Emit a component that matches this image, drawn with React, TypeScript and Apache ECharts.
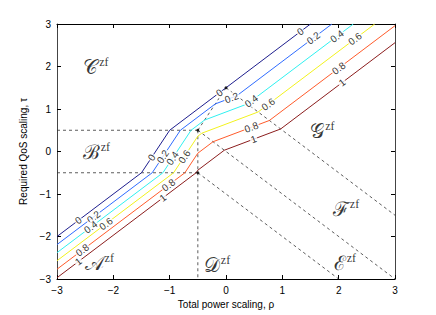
import React, { useEffect, useRef } from 'react';
import * as echarts from 'echarts';

const W = 436;
const H = 315;
const GRID = { left: 57, right: 41, top: 24, bottom: 36 };

// contour levels and colours (jet colormap)
const levelNames = ['0', '0.2', '0.4', '0.6', '0.8', '1'];
const levelColors = ['#1e1e8e', '#2f6cff', '#30f0f0', '#f2f21e', '#ff5b2b', '#8b1d1d'];

// contour vertices [rho, tau]
const contour00 = [[-3, -2], [-1.5, -0.5], [-1, 0.5], [1.5, 3]];
const contour02 = [[-3, -2.19], [-1.31, -0.5], [-0.81, 0.5], [-0.19, 1.12], [0.19, 1.31], [1.88, 3]];
const contour04 = [[-3, -2.38], [-1.12, -0.5], [-0.62, 0.5], [-0.38, 0.74], [0.38, 1.12], [2.26, 3]];
const contour06 = [[-3, -2.57], [-0.93, -0.5], [-0.5, 0.36], [-0.43, 0.43], [0.57, 0.93], [2.64, 3]];
const contour08 = [[-3, -2.77], [-0.73, -0.5], [-0.5, -0.04], [-0.23, 0.23], [0.77, 0.73], [3, 2.96]];
const contour10 = [[-3, -2.97], [-0.53, -0.5], [-0.5, -0.44], [-0.03, 0.03], [0.97, 0.53], [3, 2.56]];
const contours = [contour00, contour02, contour04, contour06, contour08, contour10];

// rho positions of the inline contour labels
const labelRho00 = [-2.62, -1.32, -0.12, 1.32];
const labelRho02 = [-2.35, -1.12, 0.1, 1.55];
const labelRho04 = [-2.4, -0.95, 0.45, 1.97];
const labelRho06 = [-2.13, -0.74, 0.75, 2.29];
const labelRho08 = [-2.55, -1.02, 0.45, 2.0];
const labelRho10 = [-2.62, -1.12, 0.49, 2.06];
const labelRhos = [labelRho00, labelRho02, labelRho04, labelRho06, labelRho08, labelRho10];

// region boundaries (dashed)
const boundaries = [
  [[-3, 0.5], [-0.5, 0.5]],
  [[-3, -0.5], [-0.5, -0.5]],
  [[-0.5, 0.5], [-0.5, -3]],
  [[-0.5, 0.5], [0, 1.5]],
  [[0, 1.5], [3, -1.5]],
  [[-0.5, 0.5], [3, -3]],
  [[-0.5, -0.5], [2, -3]],
];
const corners = [[-0.5, 0.5], [-0.5, -0.5], [0, 1.5]];

// region names
const regionLetters = ['𝒜', 'ℬ', '𝒞', '𝒟', 'ℰ', 'ℱ', '𝒢'];
const regionPos = [[-2.25, -2.62], [-2.3, 0.0], [-2.31, 1.99], [-0.16, -2.67], [2.11, -2.62], [2.13, -1.35], [1.71, 0.48]];

function onPolyline(pts: number[][], rho: number) {
  for (let i = 0; i < pts.length - 1; i++) {
    const [x0, y0] = pts[i];
    const [x1, y1] = pts[i + 1];
    if (rho >= x0 && rho <= x1) {
      const s = (y1 - y0) / (x1 - x0);
      return { tau: y0 + s * (rho - x0), slope: s };
    }
  }
  return { tau: pts[0][1], slope: 1 };
}

export default function App() {
  const ref = useRef<HTMLDivElement>(null);
  useEffect(() => {
    if (!ref.current) return;
    const chart = echarts.init(ref.current, undefined, { renderer: 'svg' });
    const sx = (W - GRID.left - GRID.right) / 6;
    const sy = (H - GRID.top - GRID.bottom) / 6;
    const minus = (v: number) => String(v).replace('-', '\u2212');
    const font = 'Liberation Sans';

    const series: any[] = [];
    boundaries.forEach((b) => {
      series.push({
        type: 'line', data: b, symbol: 'none', silent: true, z: 2,
        lineStyle: { color: '#333', width: 0.8, type: [3, 3] },
      });
    });
    contours.forEach((c, i) => {
      series.push({
        type: 'line', data: c, symbol: 'none', silent: true, z: 3,
        lineStyle: { color: levelColors[i], width: 1 },
      });
    });
    series.push({
      type: 'scatter', data: corners, symbolSize: 3, z: 4, silent: true,
      itemStyle: { color: '#000' },
    });
    const labelData: any[] = [];
    labelRhos.forEach((arr, i) => {
      arr.forEach((r) => {
        const p = onPolyline(contours[i], r);
        const ang = (Math.atan2(p.slope * sy, sx) * 180) / Math.PI;
        labelData.push({
          value: [r, p.tau],
          label: { rotate: ang, formatter: levelNames[i] },
        });
      });
    });
    series.push({
      type: 'scatter', data: labelData, symbolSize: 0, z: 6, silent: true,
      label: {
        show: true, position: 'inside', color: '#000', fontFamily: font, fontSize: 10,
        backgroundColor: '#fff', padding: [0, 1], lineHeight: 10,
      },
    });
    series.push({
      type: 'scatter', symbolSize: 0, z: 7, silent: true,
      data: regionLetters.map((l, i) => ({
        value: regionPos[i],
        label: { formatter: `{m|${l}}{s|zf}` },
      })),
      label: {
        show: true, position: 'inside',
        rich: {
          m: { fontFamily: 'DejaVu Serif', fontStyle: 'normal', fontSize: 20, color: '#000', lineHeight: 22 },
          s: { fontFamily: 'Liberation Serif', fontSize: 12, color: '#000', verticalAlign: 'top', lineHeight: 22, padding: [0, 0, 9, 1] },
        },
      },
    });

    const axisCommon = {
      type: 'value', min: -3, max: 3, interval: 1,
      splitLine: { show: false },
      axisTick: { inside: true, length: 4, lineStyle: { color: '#000' } },
    };
    chart.setOption({
      animation: false,
      grid: { ...GRID, containLabel: false },
      xAxis: [
        {
          ...axisCommon, position: 'bottom',
          axisLine: { onZero: false, lineStyle: { color: '#000', width: 1 } },
          axisLabel: { formatter: minus, color: '#000', fontFamily: font, fontSize: 10, margin: 6 },
          name: 'Total power scaling, \u03c1', nameLocation: 'middle', nameGap: 18,
          nameTextStyle: { color: '#000', fontFamily: font, fontSize: 10 },
        },
        {
          ...axisCommon, position: 'top',
          axisLine: { onZero: false, lineStyle: { color: '#000', width: 1 } },
          axisLabel: { show: false },
        },
      ],
      yAxis: [
        {
          ...axisCommon, position: 'left',
          axisLine: { onZero: false, lineStyle: { color: '#444', width: 1 } },
          axisLabel: { formatter: minus, color: '#000', fontFamily: font, fontSize: 10, margin: 6 },
          name: 'Required QoS scaling, \u03c4', nameLocation: 'middle', nameGap: 19,
          nameTextStyle: { color: '#000', fontFamily: font, fontSize: 10 },
        },
        {
          ...axisCommon, position: 'right',
          axisLine: { onZero: false, lineStyle: { color: '#444', width: 1 } },
          axisLabel: { show: false },
        },
      ],
      series,
    });
    return () => chart.dispose();
  }, []);
  return <div ref={ref} style={{ position: 'fixed', left: 0, top: 0, width: W, height: H, background: '#fff' }} />;
}
